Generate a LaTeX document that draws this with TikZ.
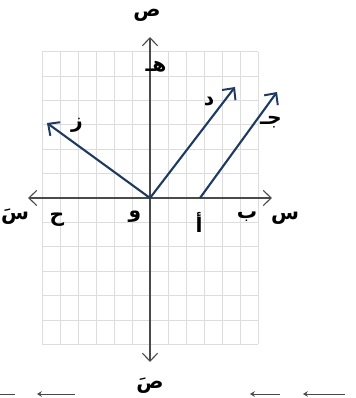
\documentclass[tikz,border=0pt]{standalone}
\usepackage{fontspec}
\newfontfamily\arabicfont[Script=Arabic]{DejaVu Sans}
\TeXXeTstate=1
\usetikzlibrary{positioning, arrows.meta}
\definecolor{vecblue}{HTML}{1F3A60}
\definecolor{axgray}{HTML}{4A4A4A}
\definecolor{gridgray}{HTML}{DDDDDD}

\begin{document}
\begin{tikzpicture}[
      x=0.025cm, y=0.025cm,
      every node/.style={font=\arabicfont\bfseries\Large, inner sep=0pt},
      gridline/.style={draw=gridgray, line width=0.5pt},
      axisline/.style={draw=axgray, line width=0.8pt, {Straight Barb[length=2mm,width=3.8mm]}-{Straight Barb[length=2mm,width=3.8mm]}},
      vec/.style={draw=vecblue, line width=1.5pt, -{Straight Barb[length=2.2mm,width=4.2mm,line width=1.4pt]}},
      over/.style={draw=axgray, line width=0.6pt, {Stealth[length=1.2mm,width=1.4mm]}-},
    ]
    \useasboundingbox (-150,-200) rectangle (205,198);

    % grid
    \foreach \i in {-6,...,6}
      \draw[gridline] (18*\i,-146.4) -- (18*\i,146.4);
    \foreach \j in {-6,...,6}
      \draw[gridline] (-108,24.4*\j) -- (108,24.4*\j);

    % axes
    \coordinate (O) at (0,0);
    \coordinate (Xl) at (-122,0);
    \coordinate (Xr) at (122,0);
    \coordinate (Yt) at (0,161);
    \coordinate (Yb) at (0,-164);
    \draw[axisline] (Xl) -- (Xr);
    \draw[axisline] (Yb) -- (Yt);

    % vectors
    \coordinate (A) at (50,0);
    \coordinate (Ztip) at (-103,75);
    \coordinate (Dtip) at (85,111);
    \coordinate (Jtip) at (127,106);
    \draw[vec] (O) -- (Ztip);
    \draw[vec] (O) -- (Dtip);
    \draw[vec] (A) -- (Jtip);

    % labels
    \node (ytop)  at (-3,183)   {\beginR ص\endR};
    \node (he)    at (6,131)    {\beginR هـ\endR};
    \node (zay)   at (-73,73)   {\beginR ز\endR};
    \node (dal)   at (59,96)    {\beginR د\endR};
    \node (jim)   at (121,76)   {\beginR جـ\endR};
    \node (xneg)  at (-135,-19) {\beginR سَ\endR};
    \node (ha)    at (-93,-22)  {\beginR ح\endR};
    \node (waw)   at (-15,-19)  {\beginR و\endR};
    \node (alif)  at (49,-24)   {\beginR أ\endR};
    \node (ba)    at (97,-19)   {\beginR ب\endR};
    \node (xpos)  at (135,-20)  {\beginR س\endR};
    \node (ybot)  at (0,-188)   {\beginR صَ\endR};

    % cut-off arrows along the bottom edge
    \coordinate (b1s) at (-150,-196); \coordinate (b1e) at (-135,-196);
    \coordinate (b2s) at (-113,-196); \coordinate (b2e) at (-75,-196);
    \coordinate (b3s) at (100,-196);  \coordinate (b3e) at (130,-196);
    \coordinate (b4s) at (153,-196);  \coordinate (b4e) at (195,-196);
    \draw[draw=axgray, line width=0.6pt] (b1s) -- (b1e);
    \draw[over] (b2s) -- (b2e);
    \draw[over] (b3s) -- (b3e);
    \draw[over] (b4s) -- (b4e);
  \end{tikzpicture}
\end{document}
